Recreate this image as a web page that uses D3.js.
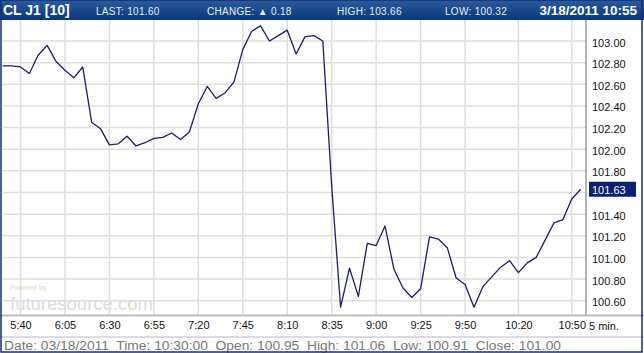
<!DOCTYPE html>
<html>
<head>
<meta charset="utf-8">
<script src="https://cdn.jsdelivr.net/npm/d3@7"></script>
<style>
  body { margin: 0; background: #fff; }
  svg { display: block; }
  text { font-family: "Liberation Sans", Arial, sans-serif; }
</style>
</head>
<body>
<div id="chart"></div>
<script>
// 5-minute bars, CL J1
var times = [
  '5:30','5:35','5:40','5:45','5:50','5:55',
  '6:00','6:05','6:10','6:15','6:20','6:25','6:30','6:35','6:40','6:45','6:50','6:55',
  '7:00','7:05','7:10','7:15','7:20','7:25','7:30','7:35','7:40','7:45','7:50','7:55',
  '8:00','8:05','8:10','8:15','8:20','8:25','8:30','8:35','8:40','8:45','8:50','8:55',
  '9:00','9:05','9:10','9:15','9:20','9:25','9:30','9:35','9:40','9:45','9:50','9:55',
  '10:00','10:05','10:10','10:15','10:20','10:25','10:30','10:35','10:40','10:45','10:50','10:55'
];
var prices = [
  102.77, 102.77, 102.76, 102.70, 102.87, 102.96,
  102.81, 102.73, 102.66, 102.76, 102.25, 102.19, 102.04, 102.05, 102.12, 102.03, 102.06, 102.10,
  102.11, 102.15, 102.09, 102.16, 102.42, 102.58, 102.47, 102.52, 102.62, 102.92, 103.09, 103.14,
  103.00, 103.05, 103.10, 102.88, 103.04, 103.05, 103.00, 101.66, 100.54, 100.90, 100.64, 101.13,
  101.11, 101.29, 100.89, 100.72, 100.63, 100.71, 101.19, 101.17, 101.09, 100.81, 100.75, 100.54,
  100.73, 100.82, 100.91, 100.97, 100.86, 100.95, 101.00, 101.16, 101.32, 101.35, 101.54, 101.63
];
var timeTicks = ['5:40','6:05','6:30','6:55','7:20','7:45','8:10','8:35','9:00','9:25','9:50','10:20','10:50'];
var priceTicks = [103.0, 102.8, 102.6, 102.4, 102.2, 102.0, 101.8, 101.6, 101.4, 101.2, 101.0, 100.8, 100.6];
var headerItems = ['LAST: 101.60', 'CHANGE: \u25B2 0.18', 'HIGH: 103.66', 'LOW: 100.32'];
var headerTitle = 'CL J1 [10]';
var headerDate = '3/18/2011 10:55';
var footerText = 'Date: 03/18/2011  Time: 10:30:00  Open: 100.95  High: 101.06  Low: 100.91  Close: 101.00';

var W = 644, H = 353;
var plot = { left: 2.7, right: 586, top: 20, bottom: 315 };

function toMin(s) {
  var p = s.split(':');
  return +p[0] * 60 + +p[1];
}

var data = times.map(function(t, i) { return { t: toMin(t), v: prices[i] }; });
var last = data[data.length - 1];

var x = d3.scaleLinear().domain([330, 658]).range([plot.left, plot.right]);
var y = d3.scaleLinear().domain([100.468, 103.194]).range([plot.bottom, plot.top]);

var svg = d3.select('#chart').append('svg')
  .attr('width', W)
  .attr('height', H);

// header bar
var grad = svg.append('defs').append('linearGradient')
  .attr('id', 'hdr').attr('x1', 0).attr('y1', 0).attr('x2', 0).attr('y2', 1);
grad.append('stop').attr('offset', '0%').attr('stop-color', '#2b5c9f');
grad.append('stop').attr('offset', '100%').attr('stop-color', '#0c3676');

svg.append('rect')
  .attr('x', 0).attr('y', 0).attr('width', W).attr('height', 20)
  .attr('fill', 'url(#hdr)');

svg.append('text')
  .attr('x', 3).attr('y', 15)
  .attr('fill', '#fff').attr('font-weight', 'bold').attr('font-size', 14)
  .text(headerTitle);

var headerX = [96, 207, 337, 445];
svg.selectAll('.hdr-item')
  .data(headerItems)
  .enter().append('text')
    .attr('class', 'hdr-item')
    .attr('x', function(d, i) { return headerX[i]; })
    .attr('y', 14.5)
    .attr('fill', '#e8eef8').attr('font-size', 10).attr('letter-spacing', 0.3)
    .text(function(d) { return d; });

svg.append('text')
  .attr('x', 637).attr('y', 15).attr('text-anchor', 'end')
  .attr('fill', '#fff').attr('font-weight', 'bold').attr('font-size', 13.5)
  .text(headerDate);

// watermark
svg.append('text')
  .attr('x', 10).attr('y', 290)
  .attr('fill', '#dfe6cf').attr('font-size', 6.5).attr('font-weight', 'bold')
  .text('Powered by');
var wm = svg.append('text')
  .attr('x', 10).attr('y', 310)
  .attr('fill', '#d9dde2').attr('font-size', 18.5)
  .text('futuresource.c');
wm.append('tspan').attr('fill', '#cfe0b8').text('o');
wm.append('tspan').text('m');

// grid
var g = svg.append('g');

g.selectAll('.hgrid')
  .data(priceTicks)
  .enter().append('line')
    .attr('class', 'hgrid')
    .attr('x1', plot.left).attr('x2', plot.right)
    .attr('y1', function(d) { return y(d); })
    .attr('y2', function(d) { return y(d); })
    .attr('stroke', '#dedede').attr('stroke-width', 1.5);

g.selectAll('.vgrid')
  .data(timeTicks)
  .enter().append('line')
    .attr('class', 'vgrid')
    .attr('x1', function(d) { return x(toMin(d)); })
    .attr('x2', function(d) { return x(toMin(d)); })
    .attr('y1', plot.top).attr('y2', plot.bottom)
    .attr('stroke', '#dedede').attr('stroke-width', 1.5);

// price line
var line = d3.line()
  .x(function(d) { return x(d.t); })
  .y(function(d) { return y(d.v); });

g.append('path')
  .datum(data)
  .attr('fill', 'none')
  .attr('stroke', '#1e1e5e')
  .attr('stroke-width', 1.3)
  .attr('stroke-linejoin', 'round')
  .attr('d', line);

// axes frame
svg.append('line')
  .attr('x1', plot.right).attr('x2', plot.right)
  .attr('y1', plot.top).attr('y2', plot.bottom + 1)
  .attr('stroke', '#9a9a9a').attr('stroke-width', 1.5);
svg.append('line')
  .attr('x1', 0).attr('x2', W)
  .attr('y1', plot.bottom + 0.5).attr('y2', plot.bottom + 0.5)
  .attr('stroke', '#bdbdbd').attr('stroke-width', 2);
svg.append('line')
  .attr('x1', 0).attr('x2', W)
  .attr('y1', 337).attr('y2', 337)
  .attr('stroke', '#d0d0d0').attr('stroke-width', 1.5);

// right price axis
var yAxis = d3.axisRight(y)
  .tickValues(priceTicks.filter(function(d) { return Math.abs(d - last.v) > 0.1; }))
  .tickSize(0)
  .tickPadding(6)
  .tickFormat(d3.format('.2f'));

svg.append('g')
  .attr('transform', 'translate(' + plot.right + ',1.5)')
  .call(yAxis)
  .call(function(a) { a.select('.domain').remove(); })
  .selectAll('text')
    .attr('fill', '#111')
    .attr('font-size', 11)
    .attr('font-family', '"Liberation Sans", Arial, sans-serif');

// last price marker
var lastG = svg.append('g')
  .attr('transform', 'translate(' + plot.right + ',' + y(last.v) + ')');
lastG.append('rect')
  .attr('x', 3).attr('y', -7.5).attr('width', 47).attr('height', 15)
  .attr('fill', '#0b1f73');
lastG.append('text')
  .attr('x', 6).attr('y', 4.5)
  .attr('fill', '#fff').attr('font-size', 11)
  .text(d3.format('.2f')(last.v));

// time axis
var xAxis = d3.axisBottom(x)
  .tickValues(timeTicks.map(toMin))
  .tickSize(0)
  .tickPadding(6)
  .tickFormat(function(d) { return timeTicks[timeTicks.map(toMin).indexOf(d)]; });

svg.append('g')
  .attr('transform', 'translate(0,' + plot.bottom + ')')
  .call(xAxis)
  .call(function(a) { a.select('.domain').remove(); })
  .selectAll('text')
    .attr('fill', '#111')
    .attr('font-size', 11)
    .attr('font-family', '"Liberation Sans", Arial, sans-serif');

svg.append('text')
  .attr('x', 589).attr('y', 330)
  .attr('fill', '#111').attr('font-size', 11)
  .text('5 min.');

// footer
svg.append('text')
  .attr('x', 4).attr('y', 350)
  .attr('fill', '#777').attr('font-size', 12)
  .attr('font-family', '"DejaVu Sans", "Liberation Sans", sans-serif')
  .attr('textLength', 557).attr('lengthAdjust', 'spacingAndGlyphs')
  .style('white-space', 'pre')
  .text(footerText);

// outer border
svg.append('rect')
  .attr('x', 1).attr('y', 0).attr('width', 641).attr('height', H - 1)
  .attr('fill', 'none').attr('stroke', '#1a2d6e').attr('stroke-width', 1.5);
</script>
</body>
</html>
